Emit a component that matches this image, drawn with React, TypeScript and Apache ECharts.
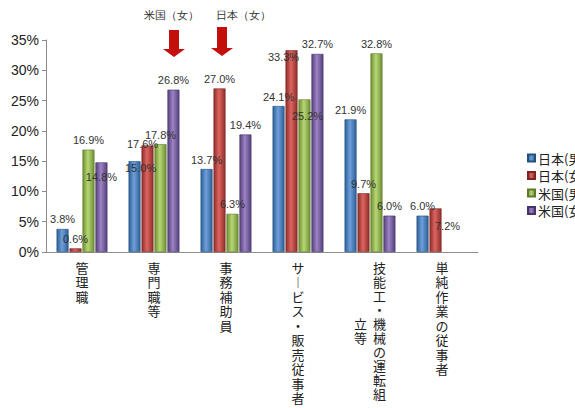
import React, { useEffect, useRef } from "react";
import * as echarts from "echarts";

const categories = [
  "管理職",
  "専門職等",
  "事務補助員",
  "サービス・販売従事者",
  "技能工・機械の運転組立等",
  "単純作業の従事者",
];
const seriesNames = ["日本(男)", "日本(女)", "米国(男)", "米国(女)"];
const jpMale = [3.8, 15.0, 13.7, 24.1, 21.9, 6.0];
const jpFemale = [0.6, 17.6, 27.0, 33.3, 9.7, 7.2];
const usMale = [16.9, 17.8, 6.3, 25.2, 32.8, null];
const usFemale = [14.8, 26.8, 19.4, 32.7, 6.0, null];
const yTicks = { min: 0, max: 35, interval: 5 };
const annotations = ["米国（女）", "日本（女）"];

// label nudges (styling only)
const labelOffsets: (number[] | null)[][] = [
  [null, [6, 16], null, null, null, null],
  [null, [-5, 8], null, [-8, 16], null, [12, 27]],
  [null, null, null, [3, 26], null, null],
  [[0, 24], null, null, null, null, null],
];

const palettes = [
  { edge: "#2d5f98", mid: "#6f9fd9", border: "#24507f" },
  { edge: "#8f2d2a", mid: "#dc6560", border: "#7a2522" },
  { edge: "#6e8f33", mid: "#b8d775", border: "#5d7a2a" },
  { edge: "#553f7c", mid: "#9e83c4", border: "#47346a" },
];

function grad(p: { edge: string; mid: string }) {
  return new echarts.graphic.LinearGradient(0, 0, 1, 0, [
    { offset: 0, color: p.edge },
    { offset: 0.45, color: p.mid },
    { offset: 1, color: p.edge },
  ]);
}

function arrow(cx: number, top: number, tip: number) {
  const sw = 5, hw = 11, hh = 8;
  return [
    [cx - sw, top],
    [cx + sw, top],
    [cx + sw, tip - hh],
    [cx + hw, tip - hh],
    [cx, tip],
    [cx - hw, tip - hh],
    [cx - sw, tip - hh],
  ];
}

export default function App() {
  const ref = useRef<HTMLDivElement>(null);
  useEffect(() => {
    if (!ref.current) return;
    const chart = echarts.init(ref.current, undefined, { renderer: "svg" });
    const all = [jpMale, jpFemale, usMale, usFemale];
    const font = "'Liberation Sans', 'Noto Sans CJK JP', sans-serif";
    const series = all.map((vals, si) => ({
      name: seriesNames[si],
      type: "bar",
      barWidth: 12,
      barGap: "8%",
      itemStyle: {
        color: grad(palettes[si]),
        borderColor: palettes[si].border,
        borderWidth: 0.6,
      },
      label: {
        show: true,
        position: "top",
        distance: 4,
        fontSize: 11,
        fontFamily: font,
        color: "#333",
        formatter: (p: any) =>
          p.value == null ? "" : Number(p.value).toFixed(1) + "%",
      },
      data: vals.map((v, i) => {
        const off = labelOffsets[si][i];
        return off ? { value: v, label: { offset: off } } : { value: v };
      }),
    }));

    chart.setOption({
      animation: false,
      backgroundColor: "#fff",
      textStyle: { fontFamily: font },
      grid: { left: 46, right: 97, top: 40, bottom: 156, containLabel: false },
      legend: {
        orient: "vertical",
        left: 522,
        top: 146,
        itemWidth: 7,
        itemHeight: 7,
        itemGap: 3.5,
        icon: "rect",
        textStyle: {
          fontSize: 13,
          lineHeight: 14,
          color: "#222",
          fontFamily: "'Noto Sans CJK JP', sans-serif",
          padding: [0, 0, 0, -2],
        },
        data: seriesNames,
      },
      xAxis: {
        type: "category",
        data: categories,
        axisLine: { lineStyle: { color: "#8c8c8c" } },
        axisTick: { length: 4, lineStyle: { color: "#8c8c8c" } },
        axisLabel: {
          interval: 0,
          margin: 8,
          color: "#222",
          fontFamily: "'Noto Sans CJK JP', sans-serif",
          formatter: (v: string) => {
            const chars = [...v.replace("ー", "︱")];
            if (chars.length <= 10)
              return chars.map((c) => `{s|${c}}`).join("\n");
            const right = chars.slice(0, 10);
            const left = chars.slice(10);
            const off = Math.floor((right.length - left.length) / 2);
            return right
              .map((c, i) => {
                const l = left[i - off];
                return `{l|${l ?? "　"}}{r|${c}}`;
              })
              .join("\n");
          },
          rich: {
            s: { fontSize: 13, lineHeight: 14.5, color: "#222" },
            l: { fontSize: 13, lineHeight: 14, width: 19, align: "left", color: "#222" },
            r: { fontSize: 13, lineHeight: 14, width: 13, align: "left", color: "#222" },
          },
        },
      },
      yAxis: {
        type: "value",
        min: yTicks.min,
        max: yTicks.max,
        interval: yTicks.interval,
        axisLine: { show: true, lineStyle: { color: "#8c8c8c" } },
        axisTick: { show: true, length: 4, lineStyle: { color: "#8c8c8c" } },
        splitLine: { show: false },
        axisLabel: {
          formatter: "{value}%",
          fontSize: 14,
          color: "#222",
          margin: 7,
          fontFamily: font,
        },
      },
      graphic: [
        {
          type: "text",
          x: 171,
          y: 15,
          style: {
            text: annotations[0],
            fontSize: 11,
            fontFamily: "serif",
            fill: "#333",
            align: "center",
            verticalAlign: "middle",
          },
        },
        {
          type: "text",
          x: 243,
          y: 15,
          style: {
            text: annotations[1],
            fontSize: 11,
            fontFamily: "serif",
            fill: "#333",
            align: "center",
            verticalAlign: "middle",
          },
        },
        {
          type: "polygon",
          shape: { points: arrow(174, 30, 57) },
          style: { fill: "#c4100d" },
        },
        {
          type: "polygon",
          shape: { points: arrow(222, 27, 56) },
          style: { fill: "#c4100d" },
        },
      ],
      series,
    });
    return () => chart.dispose();
  }, []);
  return (
    <div
      ref={ref}
      style={{ position: "fixed", left: 0, top: 0, width: 575, height: 408 }}
    />
  );
}
